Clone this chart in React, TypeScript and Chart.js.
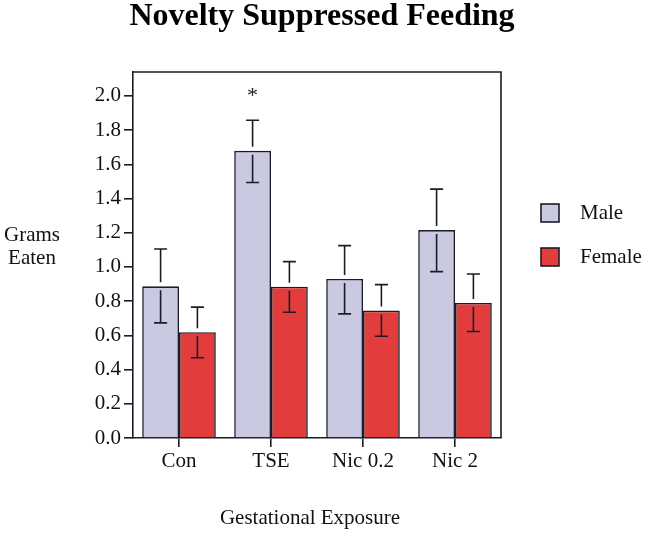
import React, { useEffect, useRef } from "react";
import { Chart, registerables } from "chart.js";

Chart.register(...registerables);

const categories = ["Con", "TSE", "Nic 0.2", "Nic 2"];
const maleMeans = [0.887, 1.679, 0.93, 1.216];
const maleUpper = [1.105, 1.858, 1.125, 1.455];
const maleLower = [0.673, 1.494, 0.726, 0.973];
const femaleMeans = [0.619, 0.885, 0.745, 0.79];
const femaleUpper = [0.765, 1.031, 0.897, 0.959];
const femaleLower = [0.469, 0.735, 0.595, 0.623];
const maleSignificance = ["", "*", "", ""];
const yTickValues = [0, 0.2, 0.4, 0.6, 0.8, 1.0, 1.2, 1.4, 1.6, 1.8, 2.0];
const yMax = 2.14;

const titleText = "Novelty Suppressed Feeding";
const xTitle = "Gestational Exposure";
const yTitleLines = ["Grams", "Eaten"];
const seriesNames = ["Male", "Female"];

const SERIF = "'Times New Roman', 'Liberation Serif', 'DejaVu Serif', serif";
const INK = "#1c1c28";
const MALE_FILL = "#cac9e2";
const FEMALE_FILL = "#e23c3c";

const errorBars = [
  { upper: maleUpper, lower: maleLower },
  { upper: femaleUpper, lower: femaleLower },
];

const decorPlugin = {
  id: "decor",
  afterDatasetsDraw(chart: any) {
    const ctx = chart.ctx;
    const y = chart.scales.y;
    ctx.save();
    ctx.strokeStyle = INK;
    ctx.lineWidth = 1.6;
    const gap = 4;
    const cap = 6.5;
    errorBars.forEach((eb, di) => {
      const meta = chart.getDatasetMeta(di);
      meta.data.forEach((bar: any, i: number) => {
        const x = bar.x;
        const top = bar.y;
        const hi = y.getPixelForValue(eb.upper[i]);
        const lo = y.getPixelForValue(eb.lower[i]);
        ctx.beginPath();
        ctx.moveTo(x, top - gap);
        ctx.lineTo(x, hi);
        ctx.moveTo(x - cap, hi);
        ctx.lineTo(x + cap, hi);
        ctx.moveTo(x, top + gap);
        ctx.lineTo(x, lo);
        ctx.moveTo(x - cap, lo);
        ctx.lineTo(x + cap, lo);
        ctx.stroke();
      });
    });
    const mMeta = chart.getDatasetMeta(0);
    ctx.fillStyle = INK;
    ctx.font = `22px ${SERIF}`;
    ctx.textAlign = "center";
    ctx.textBaseline = "middle";
    maleSignificance.forEach((s, i) => {
      if (!s) return;
      const bar = mMeta.data[i];
      const hi = y.getPixelForValue(maleUpper[i]);
      ctx.fillText(s, bar.x, hi - 24);
    });
    ctx.restore();
  },
  afterDraw(chart: any) {
    const ctx = chart.ctx;
    const a = chart.chartArea;
    ctx.save();
    ctx.strokeStyle = INK;
    ctx.lineWidth = 1.6;
    ctx.beginPath();
    ctx.moveTo(a.left, a.top);
    ctx.lineTo(a.right, a.top);
    ctx.lineTo(a.right, a.bottom);
    ctx.stroke();
    ctx.fillStyle = "#000";
    ctx.font = `bold 32px ${SERIF}`;
    ctx.textAlign = "center";
    ctx.textBaseline = "middle";
    ctx.fillText(titleText, 322, 17);
    ctx.font = `21px ${SERIF}`;
    ctx.fillStyle = "#111";
    ctx.fillText(yTitleLines[0], 32, 235);
    ctx.fillText(yTitleLines[1], 32, 258);
    ctx.fillText(xTitle, 310, 518);
    const fills = [MALE_FILL, FEMALE_FILL];
    const ys = [213, 257];
    ctx.textAlign = "left";
    seriesNames.forEach((n, i) => {
      ctx.fillStyle = fills[i];
      ctx.fillRect(541, ys[i] - 9, 18, 18);
      ctx.strokeStyle = INK;
      ctx.lineWidth = 1.6;
      ctx.strokeRect(541, ys[i] - 9, 18, 18);
      ctx.fillStyle = "#111";
      ctx.fillText(n, 580, ys[i]);
    });
    ctx.restore();
  },
};

export default function App() {
  const ref = useRef<HTMLCanvasElement | null>(null);
  useEffect(() => {
    if (!ref.current) return;
    const chart = new Chart(ref.current, {
      type: "bar",
      data: {
        labels: categories,
        datasets: [
          {
            label: seriesNames[0],
            data: maleMeans,
            backgroundColor: MALE_FILL,
            borderColor: INK,
            borderWidth: 1.6,
            borderSkipped: "bottom",
            categoryPercentage: 0.8,
            barPercentage: 1.0,
          },
          {
            label: seriesNames[1],
            data: femaleMeans,
            backgroundColor: FEMALE_FILL,
            borderColor: INK,
            borderWidth: 1.6,
            borderSkipped: "bottom",
            categoryPercentage: 0.8,
            barPercentage: 1.0,
          },
        ],
      },
      options: {
        animation: false,
        responsive: false,
        devicePixelRatio: 1,
        layout: { padding: { top: 72, right: 145, left: 0, bottom: 0 } },
        plugins: {
          legend: { display: false },
          title: { display: false },
          tooltip: { enabled: false },
        },
        scales: {
          x: {
            type: "category",
            grid: {
              offset: false,
              drawOnChartArea: false,
              drawTicks: true,
              tickLength: 9,
              color: INK,
              lineWidth: 1.6,
            },
            border: { display: true, color: INK, width: 1.6 },
            ticks: {
              color: "#111",
              font: { family: SERIF, size: 21 },
              padding: 2,
              maxRotation: 0,
            },
            afterFit: (s: any) => {
              s.height = 96;
            },
          },
          y: {
            min: 0,
            max: yMax,
            grid: {
              drawOnChartArea: false,
              drawTicks: true,
              tickLength: 9,
              color: INK,
              lineWidth: 1.6,
            },
            border: { display: true, color: INK, width: 1.6 },
            ticks: {
              color: "#111",
              font: { family: SERIF, size: 21 },
              padding: 3,
              callback: (v: any) => Number(v).toFixed(1),
            },
            afterBuildTicks: (s: any) => {
              s.ticks = yTickValues.map((v) => ({ value: v }));
            },
            afterFit: (s: any) => {
              s.width = 133;
            },
          },
        },
      },
      plugins: [decorPlugin],
    });
    return () => chart.destroy();
  }, []);
  return (
    <div style={{ position: "fixed", left: 0, top: 0, width: 646, height: 534, background: "#fff" }}>
      <canvas ref={ref} width={646} height={534} style={{ width: 646, height: 534, display: "block" }} />
    </div>
  );
}
